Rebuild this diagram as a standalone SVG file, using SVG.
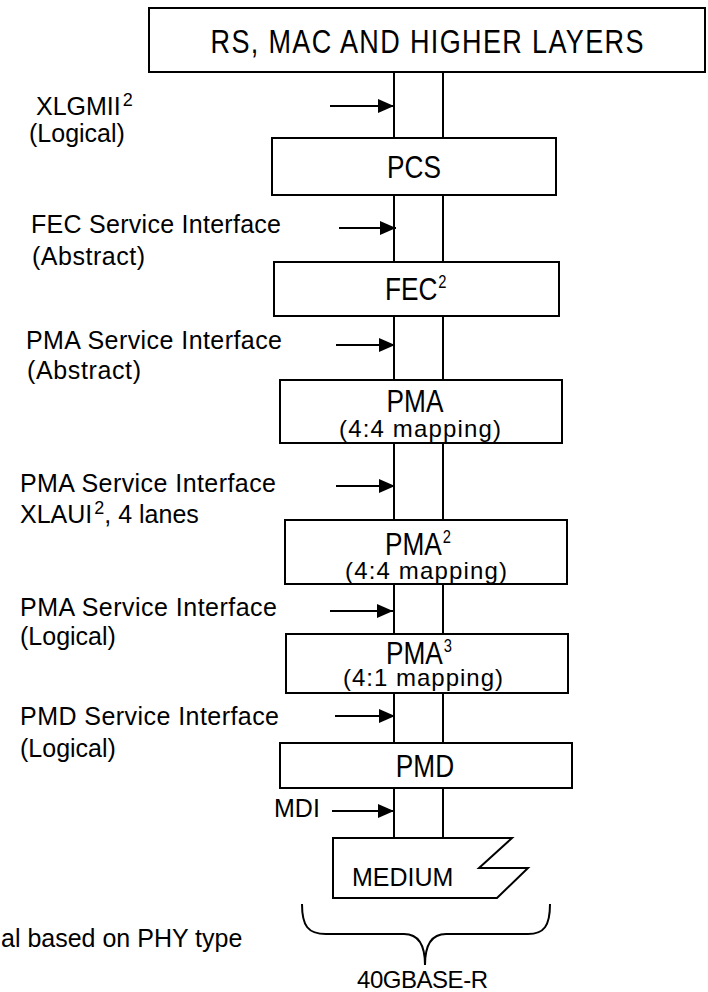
<svg xmlns="http://www.w3.org/2000/svg" width="708" height="992" viewBox="0 0 708 992">
<style>
text{font-family:"Liberation Sans",Arial,sans-serif;fill:#000}
.lbl{font-size:25px}
.ttl{font-size:32px}
.map{font-size:24px}
.sup{font-size:18px}
.box{fill:#fff;stroke:#000;stroke-width:2}
.ln{stroke:#000;stroke-width:2;fill:none}
.arr{stroke:#000;stroke-width:2;marker-end:url(#ah)}
</style>
<defs>
<marker id="ah" markerUnits="userSpaceOnUse" markerWidth="16" markerHeight="14" refX="16" refY="7" orient="auto"><path d="M0,0 L16,7 L0,14 Z" fill="#000"/></marker>
</defs>
<rect width="708" height="992" fill="#fff"/>
<g id="connectors">
<path class="ln" d="M394,72V138M443,72V138M394,195V262M443,195V262M394,316V380M443,316V380M394,443V520M443,443V520M394,584V634M443,584V634M394,693V743M443,693V743M394,788V838M443,788V838"/>
<line class="arr" x1="330" y1="106" x2="394" y2="106"/>
<line class="arr" x1="339" y1="228" x2="396" y2="228"/>
<line class="arr" x1="336" y1="345" x2="395" y2="345"/>
<line class="arr" x1="336" y1="486" x2="395" y2="486"/>
<line class="arr" x1="330" y1="611" x2="393" y2="611"/>
<line class="arr" x1="335" y1="716" x2="395" y2="716"/>
<line class="arr" x1="332" y1="811" x2="394" y2="811"/>
</g>
<g id="rs">
<rect class="box" x="149" y="8" width="556" height="64"/>
<g transform="translate(427,53) scale(0.82,1)"><text x="0" y="0" text-anchor="middle" font-size="33" textLength="528">RS, MAC AND HIGHER LAYERS</text></g>
</g>
<g id="pcs">
<rect class="box" x="272" y="138" width="284" height="57"/>
<g transform="translate(414,178) scale(0.82,1)"><text class="ttl" x="0" y="0" text-anchor="middle">PCS</text></g>
</g>
<g id="fec">
<rect class="box" x="274" y="262" width="285" height="54"/>
<g transform="translate(385,300) scale(0.82,1)"><text class="ttl" x="0" y="0">FEC<tspan class="sup" dx="1" dy="-12">2</tspan></text></g>
</g>
<g id="pma1">
<rect class="box" x="280" y="380" width="282" height="63"/>
<g transform="translate(415,412) scale(0.82,1)"><text class="ttl" x="0" y="0" text-anchor="middle">PMA</text></g>
<text class="map" x="420" y="437" text-anchor="middle" textLength="162">(4:4 mapping)</text>
</g>
<g id="pma2">
<rect class="box" x="285" y="520" width="282" height="64"/>
<g transform="translate(385,555) scale(0.82,1)"><text class="ttl" x="0" y="0">PMA<tspan class="sup" dx="1" dy="-12">2</tspan></text></g>
<text class="map" x="426" y="579" text-anchor="middle" textLength="162">(4:4 mapping)</text>
</g>
<g id="pma3">
<rect class="box" x="286" y="634" width="282" height="59"/>
<g transform="translate(386,664) scale(0.82,1)"><text class="ttl" x="0" y="0">PMA<tspan class="sup" dx="1" dy="-12">3</tspan></text></g>
<text class="map" x="423" y="686" text-anchor="middle" textLength="160">(4:1 mapping)</text>
</g>
<g id="pmd">
<rect class="box" x="280" y="743" width="292" height="45"/>
<g transform="translate(425,777) scale(0.82,1)"><text class="ttl" x="0" y="0" text-anchor="middle">PMD</text></g>
</g>
<g id="medium">
<path class="box" d="M333,838 H512 L479,868 H528 L497,898 H333 Z"/>
<text class="lbl" x="352" y="886">MEDIUM</text>
</g>
<g id="brace">
<path class="ln" d="M302,904 C302,926 308,934 326,934 L404,934 C418,934 425,944 425,965 M550,904 C550,926 544,934 528,934 L446,934 C432,934 425,944 425,965"/>
<text x="357" y="988" font-size="24" textLength="131">40GBASE-R</text>
</g>
<g id="labels">
<text class="lbl" x="36" y="115">XLGMII<tspan class="sup" dx="2" dy="-9">2</tspan></text>
<text class="lbl" x="29" y="142">(Logical)</text>
<text class="lbl" x="31" y="233" textLength="250">FEC Service Interface</text>
<text class="lbl" x="32" y="265" textLength="113">(Abstract)</text>
<text class="lbl" x="26" y="349" textLength="256">PMA Service Interface</text>
<text class="lbl" x="27" y="379" textLength="114">(Abstract)</text>
<text class="lbl" x="20" y="492" textLength="256">PMA Service Interface</text>
<text class="lbl" x="20" y="523">XLAUI<tspan class="sup" dx="2" dy="-9">2</tspan><tspan dy="9">, 4 lanes</tspan></text>
<text class="lbl" x="20" y="616" textLength="257">PMA Service Interface</text>
<text class="lbl" x="20" y="645">(Logical)</text>
<text class="lbl" x="20" y="725" textLength="259">PMD Service Interface</text>
<text class="lbl" x="20" y="757">(Logical)</text>
<text class="lbl" x="274" y="817">MDI</text>
<text class="lbl" x="1" y="947">al based on PHY type</text>
</g>
</svg>
